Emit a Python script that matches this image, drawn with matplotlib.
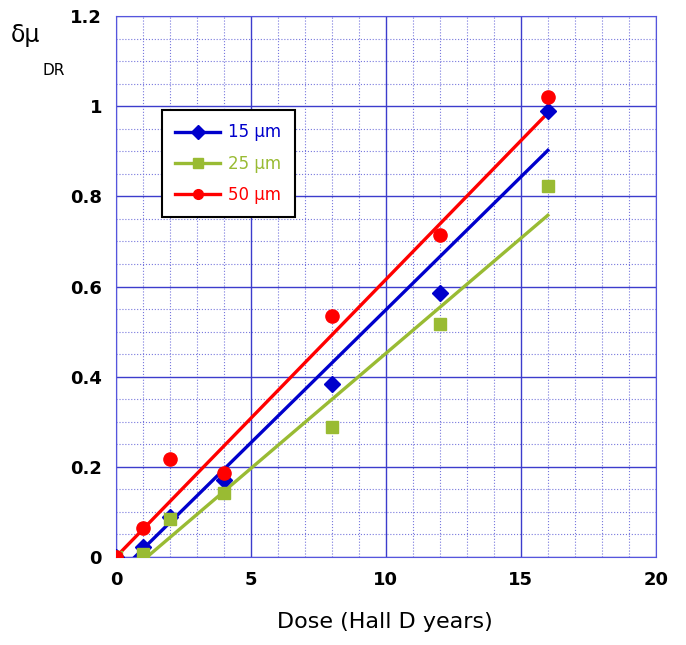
import matplotlib.pyplot as plt
from matplotlib.ticker import MultipleLocator, FuncFormatter

# Data
dose = [0, 1, 2, 4, 8, 12, 16]
mu_15 = [0.0, 0.023, 0.089, 0.171, 0.384, 0.586, 0.989]
mu_25 = [0.0, 0.006, 0.084, 0.143, 0.289, 0.517, 0.823]
mu_50 = [0.0, 0.064, 0.217, 0.187, 0.535, 0.714, 1.02]

# fitted lines (end points)
fit_x_15 = [0.7, 16]
fit_y_15 = [0.0, 0.902]
fit_x_25 = [1.15, 16]
fit_y_25 = [0.0, 0.758]
fit_x_50 = [0, 16]
fit_y_50 = [0.0, 0.985]

blue = '#0000cc'
green = '#99bb33'
red = '#ff0000'
gridc = '#3c3ccc'

fig = plt.figure(figsize=(6.86, 6.45), dpi=100)
ax = fig.add_axes([0.169, 0.1364, 0.787, 0.8388])

# fit lines
ax.plot(fit_x_50, fit_y_50, color=red, lw=2.4, zorder=3)
ax.plot(fit_x_15, fit_y_15, color=blue, lw=2.4, zorder=3)
ax.plot(fit_x_25, fit_y_25, color=green, lw=2.4, zorder=3)

# points
ax.plot(dose, mu_15, 'D', color=blue, ms=8, ls='none', zorder=4)
ax.plot(dose, mu_25, 's', color=green, ms=9, ls='none', zorder=4)
ax.plot(dose, mu_50, 'o', color=red, ms=9.5, ls='none', zorder=5)

# legend handles
h15, = ax.plot([], [], '-D', color=blue, lw=2.4, ms=7, label='15 μm')
h25, = ax.plot([], [], '-s', color=green, lw=2.4, ms=7, label='25 μm')
h50, = ax.plot([], [], '-o', color=red, lw=2.4, ms=7, label='50 μm')
leg = ax.legend(handles=[h15, h25, h50], loc='upper left',
                bbox_to_anchor=(0.085, 0.826), borderaxespad=0,
                fancybox=False, framealpha=1,
                edgecolor='black', labelcolor='linecolor', fontsize=12,
                handlelength=2.7, handletextpad=0.5, borderpad=0.8,
                labelspacing=0.8)
leg.get_frame().set_linewidth(1.5)

ax.set_xlim(0, 20)
ax.set_ylim(0, 1.2)
ax.xaxis.set_major_locator(MultipleLocator(5))
ax.xaxis.set_minor_locator(MultipleLocator(1))
ax.yaxis.set_major_locator(MultipleLocator(0.2))
ax.yaxis.set_minor_locator(MultipleLocator(0.05))
ax.yaxis.set_major_formatter(FuncFormatter(lambda v, p: '%g' % round(v, 2)))
ax.grid(which='major', color=gridc, lw=1.0, zorder=0)
ax.grid(which='minor', color='#7777dd', lw=0.8, ls=':', zorder=0)
ax.set_axisbelow(True)
for s in ax.spines.values():
    s.set_color('#5555dd')
ax.tick_params(which='both', length=0, pad=10)
for lab in ax.get_xticklabels() + ax.get_yticklabels():
    lab.set_fontweight('bold')
    lab.set_fontsize(13)

fig.text(0.561, 0.026, 'Dose (Hall D years)', fontsize=16, ha='center')
fig.text(0.016, 0.935, 'δμ', fontsize=17)
fig.text(0.062, 0.884, 'DR', fontsize=11)

fig.savefig('out.png')
